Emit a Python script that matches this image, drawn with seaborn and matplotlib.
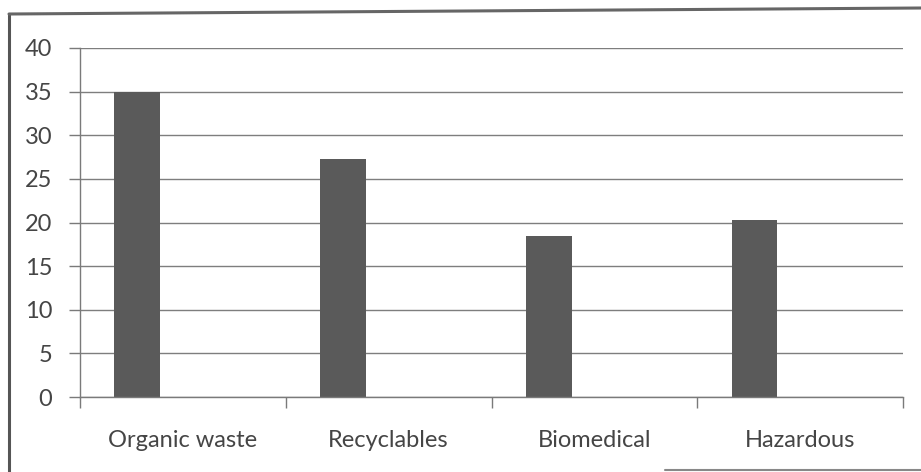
import matplotlib
matplotlib.use("Agg")
import matplotlib.pyplot as plt
from matplotlib.lines import Line2D
import seaborn as sns
import pandas as pd

# Waste categories and their shares
categories = ["Organic waste", "Recyclables", "Biomedical", "Hazardous"]
values = [35.0, 27.3, 18.5, 20.3]
# chart was laid out as a three-series cluster; only the first series holds data
series = ["Series1", "Series2", "Series3"]
y_ticks = [0, 5, 10, 15, 20, 25, 30, 35, 40]

rows = []
for cat, val in zip(categories, values):
    rows.append({"category": cat, "series": series[0], "value": val})
    for s in series[1:]:
        rows.append({"category": cat, "series": s, "value": 0.0})
df = pd.DataFrame(rows)

sns.set_theme(style="white")
plt.rcParams["font.family"] = ["Lato", "DejaVu Sans"]

fig = plt.figure(figsize=(9.21, 4.72), dpi=100)
ax = fig.add_axes([80 / 921, 1 - 397 / 472, (903 - 80) / 921, (397 - 48) / 472])

sns.barplot(data=df, x="category", y="value", hue="series", order=categories,
            hue_order=series, palette=["#5a5a5a", "#5a5a5a", "#5a5a5a"],
            width=0.667, linewidth=0, legend=False, ax=ax)

ax.set_ylim(0, 40)
ax.set_xlim(-0.5, len(categories) - 0.5)
ax.set_yticks(y_ticks)
ax.yaxis.grid(True, color="#7e7e7e", linewidth=1.0)
ax.set_axisbelow(True)
ax.set_xlabel("")
ax.set_ylabel("")

for side in ["top", "right"]:
    ax.spines[side].set_visible(False)
for side in ["left", "bottom"]:
    ax.spines[side].set_color("#7a7a7a")
    ax.spines[side].set_linewidth(1.0)

ax.tick_params(axis="y", which="major", length=8, width=1.0, color="#7a7a7a",
               labelsize=17, labelcolor="#454545", pad=12, left=True)
ax.tick_params(axis="x", which="major", length=0, labelsize=17,
               labelcolor="#454545", pad=24)
ax.set_xticks([i - 0.5 for i in range(len(categories) + 1)], minor=True)
ax.tick_params(axis="x", which="minor", length=8, width=1.0, color="#7a7a7a",
               bottom=True)

# chart-area border
fig.add_artist(Line2D([9 / 921, 9 / 921], [1 - 14 / 472, 0], color="#555555",
                      linewidth=2.2, transform=fig.transFigure))
fig.add_artist(Line2D([9 / 921, 1.0], [1 - 14 / 472, 1 - 8 / 472], color="#666666",
                      linewidth=2.2, transform=fig.transFigure))
fig.add_artist(Line2D([665 / 921, 1.0], [1 - 470 / 472, 1 - 470 / 472], color="#888888",
                      linewidth=1.5, transform=fig.transFigure))

fig.savefig("out.png", dpi=100, facecolor="white")
